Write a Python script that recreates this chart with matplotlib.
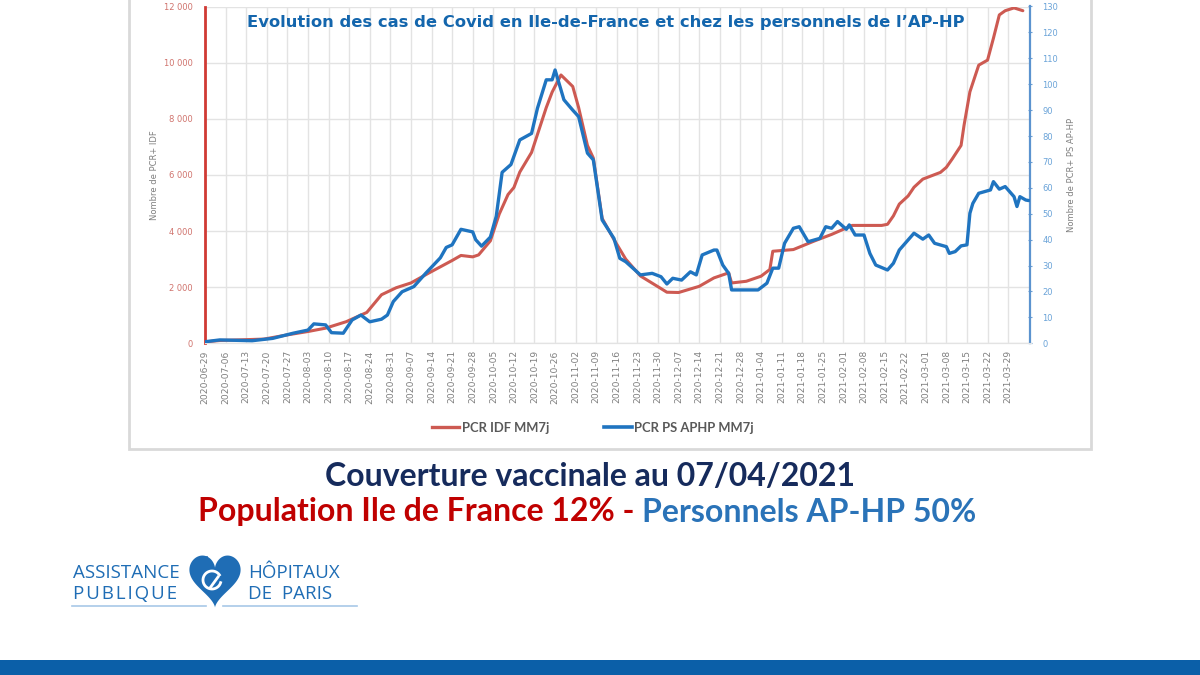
import numpy as np
import matplotlib
matplotlib.use("Agg")
import matplotlib.pyplot as plt
import matplotlib.dates as mdates
from matplotlib.patches import Rectangle, Polygon
from matplotlib.lines import Line2D

# ---------------- data ----------------
start_date = "2020-06-29"
idf_days = [0, 5, 20, 28, 35, 41, 48, 55, 60, 65, 70, 76, 84, 87, 91, 93, 97, 100, 103, 105,
            107, 111, 116, 118, 121, 125, 127, 130, 132, 135, 139, 143, 148, 155, 157, 161, 168,
            173, 178, 179, 184, 189, 192, 193, 200, 207, 213, 220, 230, 232, 234, 236, 239, 241,
            244, 250, 252, 254, 257, 258, 260, 263, 266, 268, 270, 272, 275, 278]
idf_values = [50, 100, 150, 300, 420, 540, 770, 1100, 1730, 1980, 2150, 2500, 2950, 3130, 3080,
              3150, 3650, 4600, 5300, 5550, 6100, 6800, 8400, 8950, 9560, 9150, 8400, 7050, 6600,
              4450, 3700, 3000, 2400, 1950, 1820, 1810, 2030, 2330, 2510, 2150, 2210, 2390, 2630,
              3280, 3340, 3640, 3880, 4200, 4200, 4240, 4540, 4960, 5250, 5560, 5850, 6090, 6270,
              6570, 7050, 7760, 8960, 9910, 10090, 10870, 11700, 11850, 11950, 11850]
aphp_days = [0, 5, 16, 23, 30, 35, 37, 41, 43, 47, 50, 53, 56, 60, 62, 64, 67, 71, 75, 80, 82,
             84, 87, 91, 92, 94, 97, 99, 101, 104, 107, 111, 113, 116, 118, 119, 122, 125, 127,
             130, 132, 135, 139, 141, 143, 148, 152, 155, 157, 159, 162, 165, 167, 169, 173, 174,
             176, 178, 179, 183, 188, 191, 193, 195, 197, 200, 202, 205, 209, 211, 213, 215, 218,
             219, 221, 224, 226, 228, 232, 234, 236, 238, 241, 244, 246, 248, 252, 253, 255, 257,
             259, 260, 261, 263, 267, 268, 270, 272, 275, 276, 277, 279, 280]
aphp_values = [0.6, 1.3, 1, 1.9, 3.9, 5.1, 7.5, 7.1, 4.1, 3.9, 9, 10.9, 8.3, 9.3, 10.9, 16.1, 19.9,
               21.9, 27, 33, 37, 38, 44, 43, 40, 37.5, 41, 49, 66, 69, 78.5, 81, 90.7, 101.7, 101.7,
               105.5, 94, 90, 87.5, 73.4, 70.8, 47.6, 40.5, 32.8, 31.5, 26.4, 27, 25.7, 22.9, 25.1,
               24.4, 27.6, 26.4, 34.1, 36, 36, 30.2, 27, 20.6, 20.6, 20.6, 23.2, 29, 29, 38.6, 44.4,
               45, 39.2, 40.5, 45, 44.4, 47, 44, 45.7, 41.8, 41.8, 34.7, 30.2, 28.3, 30.9, 36, 38.6,
               42.5, 40.2, 41.8, 38.6, 37.3, 34.7, 35.4, 37.6, 38, 50.2, 54, 57.9, 59.2, 62.4, 59.5,
               60.5, 56.6, 52.8, 56.6, 55.3, 55.1]
n_week_ticks = 40
left_ticks = [0, 2000, 4000, 6000, 8000, 10000, 12000]
right_ticks = list(range(0, 131, 10))

series_labels = ["PCR IDF MM7j", "PCR PS APHP MM7j"]
title = "Evolution des cas de Covid en Ile-de-France et chez les personnels de l\u2019AP-HP"
left_ylabel = "Nombre de PCR+ IDF"
right_ylabel = "Nombre de PCR+ PS AP-HP"
line1 = "Couverture vaccinale au 07/04/2021"
line2a = "Population Ile de France 12% - "
line2b = "Personnels AP-HP 50%"

# ---------------- figure ----------------
W, H = 1200, 675
fig = plt.figure(figsize=(12, 6.75), dpi=100)
fig.patch.set_facecolor("white")

start = np.datetime64(start_date)
idf_dates = start + np.array(idf_days).astype("timedelta64[D]")
aphp_dates = start + np.array(aphp_days).astype("timedelta64[D]")
tick_dates = start + (np.arange(n_week_ticks) * 7).astype("timedelta64[D]")

def fx(px):
    return px / W

def fy(py):
    return 1 - py / H

ax_l, ax_r, ax_b, ax_t = 205, 1030.5, 343.3, 6.5
ax = fig.add_axes([fx(ax_l), fy(ax_b), fx(ax_r - ax_l), (ax_b - ax_t) / H])
ax2 = ax.twinx()

RED = "#cd5a52"
BLUE = "#1f74c0"
ax.plot(idf_dates, idf_values, color=RED, lw=2.2, solid_capstyle="round", zorder=3)
ax2.plot(aphp_dates, aphp_values, color=BLUE, lw=2.4, solid_capstyle="round", zorder=4)

x0 = mdates.date2num(start)
ax.set_xlim(x0, x0 + 280.6)
ax.set_ylim(0, 12000)
ax2.set_ylim(0, 130)

ax.set_xticks(tick_dates)
ax.xaxis.set_major_formatter(mdates.DateFormatter("%Y-%m-%d"))
ax.tick_params(axis="x", rotation=90, labelsize=6.6, labelcolor="#7f7f7f", length=0, pad=5)
ax.set_yticks(left_ticks)
ax.set_yticklabels([f"{v:,}".replace(",", " ") for v in left_ticks])
ax.tick_params(axis="y", labelsize=6, labelcolor="#d0736d", length=0, pad=9)
ax2.set_yticks(right_ticks)
ax2.tick_params(axis="y", labelsize=6, labelcolor="#6aa3d8", length=3, width=0.8,
                color="#6a9fd4", direction="inout", pad=7)

ax.grid(True, color="#e3e3e3", lw=1)
ax.set_axisbelow(True)
for a in (ax, ax2):
    a.spines["top"].set_visible(False)
    a.spines["bottom"].set_color("#e3e3e3")
ax.spines["left"].set_color("#d03a34")
ax.spines["left"].set_linewidth(2)
ax.spines["right"].set_visible(False)
ax2.spines["left"].set_visible(False)
ax2.spines["right"].set_color("#5b93cf")
ax2.spines["right"].set_linewidth(1.6)

ax.set_ylabel(left_ylabel, fontsize=6, color="#7f7f7f", labelpad=3)
ax2.set_ylabel(right_ylabel, fontsize=6, color="#7f7f7f", rotation=90, labelpad=6)

ax.text(0.485, 0.953, title, transform=ax.transAxes, ha="center", va="center",
        fontsize=11.75, fontweight="bold", color="#1466ad", family="DejaVu Sans")

handles = [Line2D([], [], color=RED, lw=2.4), Line2D([], [], color=BLUE, lw=2.6)]
leg = fig.legend(handles, series_labels, loc="center", bbox_to_anchor=(fx(593), fy(428)), ncol=2,
                 frameon=False, handlelength=2.1, columnspacing=4.2, handletextpad=0.2,
                 prop={"family": "Lato", "size": 9.4, "weight": "bold"})
for t in leg.get_texts():
    t.set_color("#595959")

# ---------------- overlay (decorations & captions) ----------------
ov = fig.add_axes([0, 0, 1, 1], zorder=-1)
ov.set_xlim(0, W)
ov.set_ylim(H, 0)
ov.axis("off")
ov.patch.set_alpha(0)

ov.add_patch(Rectangle((129, -10), 962, 459, fill=False, edgecolor="#d9d9d9", lw=2))
ov.add_patch(Rectangle((0, 660), W, 16, facecolor="#0b5fa8", edgecolor="none"))

fig.canvas.draw()
renderer = fig.canvas.get_renderer()

cap_size = 23
ov.text(590, 477, line1, ha="center", va="center", fontsize=cap_size, fontweight="bold",
        color="#162b5c", family="Lato")
ta = ov.text(198, 512, line2a, ha="left", va="center", fontsize=cap_size, fontweight="bold",
             color="#c00000", family="Lato")
bb = ta.get_window_extent(renderer=renderer)
fig.text(bb.x1 / (fig.dpi * fig.get_figwidth()), fy(512), line2b, ha="left", va="center",
         fontsize=cap_size, fontweight="bold", color="#2a73b8", family="Lato")

# logo
LOGO = "#1f6db5"
lk = dict(ha="left", va="center", fontsize=13.5, color=LOGO, family="Open Sans")
ov.text(73, 573, "ASSISTANCE", **lk)
ov.text(73, 594, "P U B L I Q U E".replace(" ", "\u200a"), **lk)
ov.text(248, 573, "H\u00d4PITAUX", **lk)
ov.text(248, 594, "DE  PARIS", **lk)
ov.plot([72, 206], [606, 606], color="#a8c8e8", lw=1.2)
ov.plot([223, 357], [606, 606], color="#a8c8e8", lw=1.2)
tt = np.linspace(0, 2 * np.pi, 200)
hx = 16 * np.sin(tt) ** 3
hy = 13 * np.cos(tt) - 5 * np.cos(2 * tt) - 2 * np.cos(3 * tt) - np.cos(4 * tt)
ov.add_patch(Polygon(np.column_stack([215 + hx * 1.6, 577 - hy * 1.8]), closed=True,
                     facecolor=LOGO, edgecolor="none"))
ang = np.linspace(0.3, 2 * np.pi - 0.6, 80)
ov.plot(212 + 9 * np.cos(ang), 580 + 9 * np.sin(ang), color="white", lw=2)
ov.plot([210, 218], [588, 577], color="white", lw=2)
ov.plot([209, 207], [565, 557], color=LOGO, lw=1.2)

fig.savefig("out.png", dpi=100, facecolor="white")
